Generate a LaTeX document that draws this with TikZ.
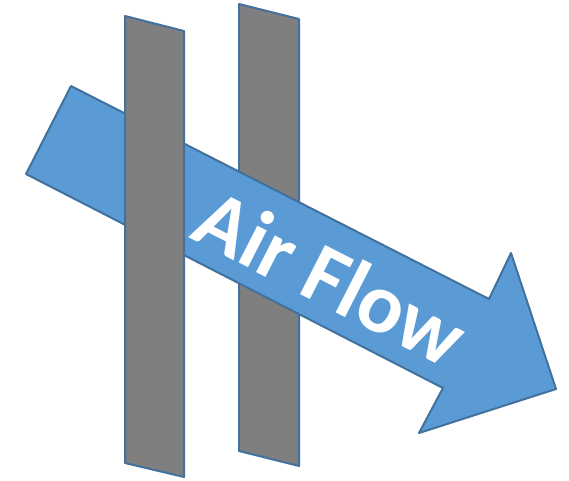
\documentclass[tikz,border=0pt]{standalone}
\usepackage{fontspec}
\setmainfont{Carlito}
\usepackage{tikz}

\definecolor{edgeblue}{HTML}{41719C}
\definecolor{flowblue}{HTML}{5B9BD5}
\definecolor{barfill}{HTML}{7F7F7F}

\begin{document}
\begin{tikzpicture}[x=1pt,y=-1pt,line join=round]
\useasboundingbox (0,0) rectangle (569,480);
\tikzset{
 barshape/.style={draw=edgeblue,fill=barfill,line width=2pt},
 flowshape/.style={draw=edgeblue,fill=flowblue,line width=2pt}
}
% back bar
\draw[barshape] (239,4)--(299,19)--(299,466)--(239,451)--cycle;
% the arrow
\draw[flowshape] (71,86)--(489,299)--(511,253)--(556,389)--(419,433)--(443,388)--(26,174)--cycle;
% front bar
\draw[barshape] (125,16)--(184,31)--(184,477)--(125,463)--cycle;
\node[text=white,font=\bfseries\fontsize{85}{85}\selectfont,rotate=-27] (flowlabel) at (331,277) {Air Flow};
\end{tikzpicture}
\end{document}
